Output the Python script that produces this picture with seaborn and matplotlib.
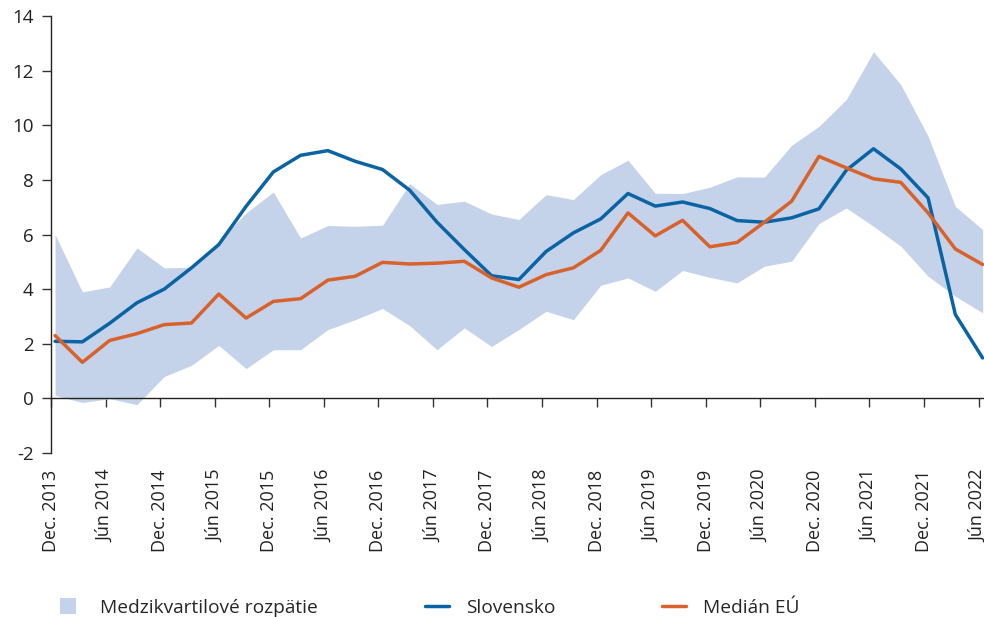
import numpy as np
import pandas as pd
import seaborn as sns
import matplotlib.pyplot as plt
from matplotlib.patches import Rectangle, Patch
from matplotlib.legend_handler import HandlerPatch

# quarterly data, Dec 2013 .. Jun 2022
quarters = ["Dec. 2013", "Mar. 2014", "Jún 2014", "Sep. 2014", "Dec. 2014", "Mar. 2015",
            "Jún 2015", "Sep. 2015", "Dec. 2015", "Mar. 2016", "Jún 2016", "Sep. 2016",
            "Dec. 2016", "Mar. 2017", "Jún 2017", "Sep. 2017", "Dec. 2017", "Mar. 2018",
            "Jún 2018", "Sep. 2018", "Dec. 2018", "Mar. 2019", "Jún 2019", "Sep. 2019",
            "Dec. 2019", "Mar. 2020", "Jún 2020", "Sep. 2020", "Dec. 2020", "Mar. 2021",
            "Jún 2021", "Sep. 2021", "Dec. 2021", "Mar. 2022", "Jún 2022"]

slovensko = [2.09, 2.07, 2.75, 3.5, 4.0, 4.78, 5.63, 7.03, 8.29, 8.9, 9.07, 8.68,
             8.38, 7.62, 6.45, 5.45, 4.49, 4.35, 5.38, 6.06, 6.57, 7.5, 7.04, 7.19,
             6.95, 6.51, 6.45, 6.61, 6.94, 8.35, 9.14, 8.4, 7.34, 3.07, 1.48]

median_eu = [2.3, 1.32, 2.12, 2.37, 2.7, 2.76, 3.82, 2.94, 3.55, 3.65, 4.33, 4.47,
             4.98, 4.92, 4.95, 5.02, 4.41, 4.07, 4.53, 4.78, 5.42, 6.79, 5.95, 6.52,
             5.55, 5.71, 6.45, 7.22, 8.86, 8.44, 8.04, 7.91, 6.79, 5.47, 4.9]

q_upper = [6.0, 3.9, 4.08, 5.51, 4.78, 4.8, 5.75, 6.79, 7.56, 5.87, 6.33, 6.3,
           6.34, 7.86, 7.1, 7.22, 6.75, 6.55, 7.46, 7.28, 8.19, 8.72, 7.51, 7.5,
           7.73, 8.11, 8.1, 9.27, 9.96, 10.94, 12.69, 11.49, 9.6, 7.03, 6.18]

q_lower = [0.11, -0.15, -0.01, -0.23, 0.8, 1.21, 1.94, 1.09, 1.78, 1.78, 2.52, 2.88,
           3.29, 2.66, 1.78, 2.58, 1.9, 2.52, 3.19, 2.88, 4.14, 4.41, 3.92, 4.68,
           4.43, 4.23, 4.84, 5.02, 6.4, 6.97, 6.3, 5.57, 4.47, 3.74, 3.13]

band_color = "#c5d3ea"

df = pd.DataFrame({"t": np.arange(len(quarters)), "Slovensko": slovensko,
                   "Medián EÚ": median_eu, "low": q_lower, "high": q_upper})

sns.set_style("ticks")
plt.rcParams["font.family"] = ["Open Sans", "DejaVu Sans"]
plt.rcParams["axes.unicode_minus"] = False

fig = plt.figure(figsize=(9.84, 6.17), dpi=100)
ax = fig.add_axes([51 / 984, 1 - 453 / 617, 1 - 51 / 984, (453 - 16) / 617])

ax.fill_between(df["t"], df["low"], df["high"], color=band_color, linewidth=0)
sns.lineplot(data=df, x="t", y="Slovensko", color="#0a64a4", linewidth=2.5,
             label="Slovensko", ax=ax)
sns.lineplot(data=df, x="t", y="Medián EÚ", color="#d9612a", linewidth=2.5,
             label="Medián EÚ", ax=ax)

ax.set_xlim(-0.15, 34.05)
ax.set_ylim(-2, 14)
ax.set_yticks(range(-2, 15, 2))
ax.set_xlabel("")
ax.set_ylabel("")

for s in ["top", "right"]:
    ax.spines[s].set_visible(False)
ax.spines["left"].set_color("#222222")
ax.spines["left"].set_linewidth(1)
ax.spines["bottom"].set_position(("data", 0))
ax.spines["bottom"].set_color("#222222")
ax.spines["bottom"].set_linewidth(1)

# ticks sit a little to the left of the quarter points, as in the source
ticks = df["t"][::2] - 0.15
ax.set_xticks(ticks)
ax.tick_params(axis="x", direction="out", length=6.5, width=1, color="#333333",
               labelbottom=False)
ax.tick_params(axis="y", direction="out", length=6.5, width=1, color="#333333",
               pad=6, labelsize=13.5, labelcolor="#222222")

sec = ax.secondary_xaxis("bottom")
sec.set_xticks(ticks, labels=quarters[::2], rotation=90)
sec.tick_params(length=0, pad=12, labelsize=13, labelcolor="#222222")
for lbl in sec.get_xticklabels():
    lbl.set_verticalalignment("top")
sec.spines["bottom"].set_visible(False)


def square_patch(legend, orig_handle, xdescent, ydescent, width, height, fontsize):
    side = 0.84 * fontsize
    return Rectangle((-xdescent, -ydescent + height / 2 - side / 2), side, side)


band_proxy = Patch(color=band_color, linewidth=0)
handles, labels = ax.get_legend_handles_labels()
ax.legend([band_proxy] + handles, ["Medzikvartilové rozpätie"] + labels,
          loc="center left", bbox_to_anchor=(60 / 984, 1 - 608 / 617),
          bbox_transform=fig.transFigure, ncol=3, frameon=False, fontsize=13.8,
          borderaxespad=0, borderpad=0, handlelength=1.25, handletextpad=0.85,
          columnspacing=5.6,
          handler_map={band_proxy: HandlerPatch(patch_func=square_patch)})

fig.savefig("out.png", dpi=100)
